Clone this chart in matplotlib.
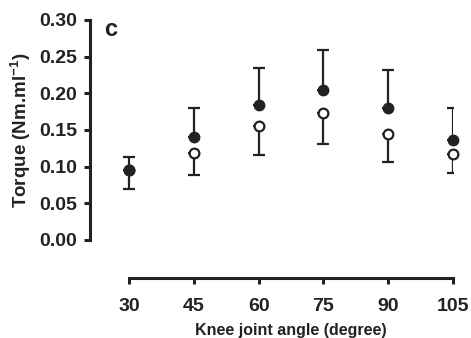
import matplotlib
matplotlib.use('Agg')
from matplotlib import pyplot as plt

# knee angle (degree)
angles = [30, 45, 60, 75, 90, 105]
# filled circles, upper error bars
torque_a = [0.095, 0.141, 0.184, 0.204, 0.180, 0.137]
err_a = [0.018, 0.039, 0.051, 0.055, 0.052, 0.043]
# open circles, lower error bars
torque_b = [0.095, 0.118, 0.156, 0.173, 0.144, 0.117]
err_b = [0.026, 0.029, 0.040, 0.042, 0.038, 0.026]

yticks = [0.00, 0.05, 0.10, 0.15, 0.20, 0.25, 0.30]

plt.rcParams['font.family'] = 'Liberation Sans'
plt.rcParams['font.weight'] = 'bold'
plt.rcParams['axes.labelweight'] = 'bold'
plt.rcParams['mathtext.fontset'] = 'custom'
plt.rcParams['mathtext.rm'] = 'Liberation Sans:bold'
plt.rcParams['mathtext.bf'] = 'Liberation Sans:bold'

ink = '#222222'

fig = plt.figure(figsize=(4.71, 3.38), dpi=100)
ax = fig.add_axes([90/471, 98/338, (453-90)/471, 220/338])

ax.errorbar(angles, torque_b, yerr=[err_b, [0]*6], fmt='none', ecolor=ink,
            elinewidth=1.6, capsize=4, capthick=1.6)
ax.errorbar(angles, torque_a, yerr=[[0]*6, err_a], fmt='none', ecolor=ink,
            elinewidth=1.6, capsize=4, capthick=1.6)

ax.plot(angles, torque_b, 'o', ms=7, mfc='white', mec=ink, mew=1.6,
        ls='none', clip_on=False, zorder=3)
ax.plot(angles, torque_a, 'o', ms=7.5, mfc=ink, mec=ink,
        ls='none', clip_on=False, zorder=4)

ax.set_xlim(30 - 39/4.32, 105)
ax.set_ylim(0, 0.30)
ax.set_xticks(angles)
ax.set_yticks(yticks)
ax.set_yticklabels(['%.2f' % v for v in yticks])

for s in ['top', 'right']:
    ax.spines[s].set_visible(False)
ax.spines['left'].set_linewidth(2.2)
ax.spines['bottom'].set_linewidth(2.2)
ax.spines['left'].set_color(ink)
ax.spines['bottom'].set_color(ink)
ax.spines['bottom'].set_position(('outward', 27.5))
ax.spines['bottom'].set_bounds(30, 105)
ax.spines['left'].set_bounds(0, 0.30)

ax.tick_params(axis='both', colors=ink, labelsize=14, width=2.2, length=4, pad=5)
ax.tick_params(axis='x', pad=10)

ax.set_xlabel('Knee joint angle (degree)', fontsize=11.5, color=ink,
              fontweight='bold')
ax.xaxis.set_label_coords(0.554, -0.375)
ax.set_ylabel(r'Torque (Nm.ml$^{\mathbf{-1}}$)', fontsize=13.5, color=ink,
              fontweight='bold', labelpad=5)

ax.text(0.04, 0.955, 'c', transform=ax.transAxes, fontsize=17, color=ink,
        fontweight='bold', ha='left', va='center')

fig.savefig('out.png', dpi=100)
